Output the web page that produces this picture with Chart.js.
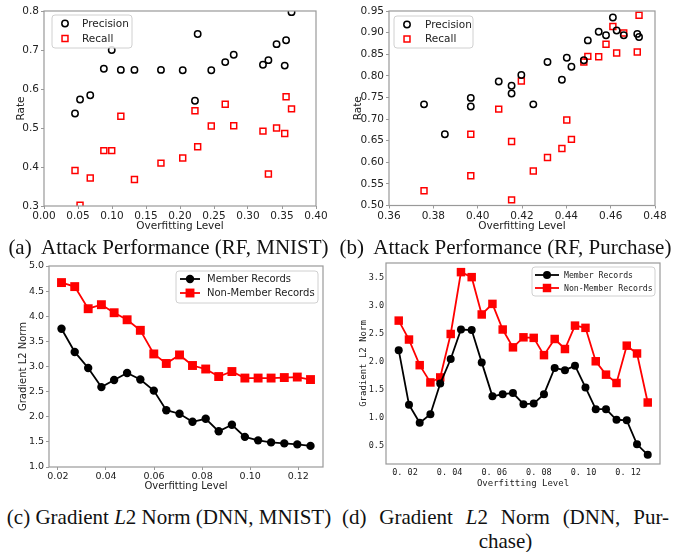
<!DOCTYPE html>
<html>
<head>
<meta charset="utf-8">
<script src="https://cdn.jsdelivr.net/npm/chart.js@4.4.1/dist/chart.umd.min.js"></script>
<style>
  body { margin: 0; background: #fff; }
  #wrap { position: relative; width: 674px; height: 552px; overflow: hidden; }
  canvas { position: absolute; }
  .cap { position: absolute; font-family: "Liberation Serif", serif; font-size: 21px; line-height: 21px; white-space: nowrap; color: #111; }
</style>
</head>
<body>
<div id="wrap">
  <canvas id="chart-a" width="337" height="234" style="left:0;top:0"></canvas>
  <canvas id="chart-b" width="337" height="234" style="left:337px;top:0"></canvas>
  <canvas id="chart-c" width="337" height="238" style="left:0;top:256px"></canvas>
  <canvas id="chart-d" width="337" height="242" style="left:337px;top:252px"></canvas>
  <div class="cap" style="left:0;top:237px;width:337px;text-align:center">(a)&nbsp; Attack Performance (RF, MNIST)</div>
  <div class="cap" style="left:337px;top:237px;width:337px;text-align:center">(b)&nbsp; Attack Performance (RF, Purchase)</div>
  <div class="cap" style="left:5px;top:507px;width:328px;text-align:center">(c) Gradient <i>L</i>2 Norm (DNN, MNIST)</div>
  <div class="cap" style="left:342px;top:507px;width:327px;text-align:justify;text-align-last:justify">(d) Gradient <i>L</i>2 Norm (DNN, Pur-</div>
  <div class="cap" style="left:342px;top:531px;width:327px;text-align:center">chase)</div>
</div>
<script>
// (a) RF, MNIST
var aX = [0.0456, 0.053, 0.068, 0.088, 0.0996, 0.113, 0.133, 0.172, 0.204, 0.222, 0.226, 0.246, 0.2665, 0.279, 0.322, 0.330, 0.342, 0.354, 0.356, 0.364];
var aPrecision = [0.537, 0.573, 0.584, 0.652, 0.700, 0.649, 0.649, 0.649, 0.648, 0.570, 0.741, 0.648, 0.669, 0.688, 0.662, 0.674, 0.715, 0.660, 0.725, 0.797];
var aRecall = [0.391, 0.302, 0.372, 0.442, 0.442, 0.530, 0.368, 0.410, 0.423, 0.544, 0.452, 0.505, 0.561, 0.506, 0.492, 0.382, 0.500, 0.486, 0.580, 0.549];
var aXTicks = [0, 0.05, 0.1, 0.15, 0.2, 0.25, 0.3, 0.35, 0.4];
var aXLabels = ["0.00", "0.05", "0.10", "0.15", "0.20", "0.25", "0.30", "0.35", "0.40"];
var aYTicks = [0.3, 0.4, 0.5, 0.6, 0.7, 0.8];
var aYLabels = ["0.3", "0.4", "0.5", "0.6", "0.7", "0.8"];

// (b) RF, Purchase
var bPrecX = [0.3758, 0.3852, 0.3969, 0.3969, 0.4095, 0.4153, 0.4153, 0.4197, 0.4251, 0.4315, 0.438, 0.4402, 0.4423, 0.4479, 0.4497, 0.4546, 0.4579, 0.461, 0.4627, 0.4659, 0.472, 0.4728];
var bPrecision = [0.734, 0.665, 0.749, 0.729, 0.787, 0.777, 0.759, 0.802, 0.734, 0.832, 0.791, 0.842, 0.821, 0.836, 0.882, 0.902, 0.894, 0.935, 0.905, 0.894, 0.897, 0.890];
var bRecX = [0.3758, 0.3969, 0.3969, 0.4095, 0.4153, 0.4153, 0.4197, 0.4251, 0.4315, 0.438, 0.4402, 0.4423, 0.4479, 0.4497, 0.4546, 0.4579, 0.461, 0.4627, 0.4659, 0.472, 0.4728];
var bRecall = [0.534, 0.665, 0.569, 0.723, 0.648, 0.513, 0.788, 0.580, 0.611, 0.632, 0.698, 0.653, 0.832, 0.845, 0.844, 0.873, 0.914, 0.853, 0.899, 0.855, 0.940];
var bXTicks = [0.36, 0.38, 0.40, 0.42, 0.44, 0.46, 0.48];
var bXLabels = ["0.36", "0.38", "0.40", "0.42", "0.44", "0.46", "0.48"];
var bYTicks = [0.5, 0.55, 0.6, 0.65, 0.7, 0.75, 0.8, 0.85, 0.9, 0.95];
var bYLabels = ["0.50", "0.55", "0.60", "0.65", "0.70", "0.75", "0.80", "0.85", "0.90", "0.95"];

// (c) DNN, MNIST
var cX = [0.0215, 0.0270, 0.0326, 0.0381, 0.0434, 0.0488, 0.0543, 0.0599, 0.0651, 0.0706, 0.0760, 0.0815, 0.0869, 0.0924, 0.0978, 0.1033, 0.1087, 0.1142, 0.1196, 0.1251];
var cMember = [3.75, 3.29, 2.97, 2.59, 2.73, 2.87, 2.74, 2.52, 2.13, 2.06, 1.90, 1.96, 1.71, 1.84, 1.60, 1.53, 1.49, 1.47, 1.45, 1.42];
var cNonMember = [4.67, 4.59, 4.15, 4.23, 4.07, 3.93, 3.72, 3.25, 3.06, 3.23, 3.02, 2.95, 2.80, 2.90, 2.77, 2.77, 2.77, 2.78, 2.79, 2.74];
var cXTicks = [0.02, 0.04, 0.06, 0.08, 0.10, 0.12];
var cXLabels = ["0.02", "0.04", "0.06", "0.08", "0.10", "0.12"];
var cYTicks = [1.0, 1.5, 2.0, 2.5, 3.0, 3.5, 4.0, 4.5, 5.0];
var cYLabels = ["1.0", "1.5", "2.0", "2.5", "3.0", "3.5", "4.0", "4.5", "5.0"];

// (d) DNN, Purchase
var dX = [0.0172, 0.0218, 0.0266, 0.0314, 0.0358, 0.0405, 0.0451, 0.0499, 0.0544, 0.0592, 0.0638, 0.0684, 0.0731, 0.0777, 0.0823, 0.0871, 0.0917, 0.0962, 0.1009, 0.1055, 0.1101, 0.1148, 0.1194, 0.1240, 0.1288];
var dMember = [2.21, 1.23, 0.905, 1.06, 1.61, 2.05, 2.58, 2.57, 1.99, 1.38, 1.42, 1.44, 1.24, 1.25, 1.42, 1.89, 1.85, 1.93, 1.54, 1.15, 1.15, 0.96, 0.95, 0.52, 0.33];
var dNonMember = [2.74, 2.40, 1.94, 1.63, 1.72, 2.50, 3.61, 3.52, 2.85, 3.04, 2.58, 2.26, 2.44, 2.43, 2.12, 2.41, 2.23, 2.65, 2.61, 2.01, 1.77, 1.62, 2.29, 2.15, 1.27];
var dXTicks = [0.02, 0.04, 0.06, 0.08, 0.10, 0.12];
var dXLabels = ["0. 02", "0. 04", "0. 06", "0. 08", "0. 10", "0. 12"];
var dYTicks = [0.5, 1.0, 1.5, 2.0, 2.5, 3.0, 3.5];
var dYLabels = ["0.5", "1.0", "1.5", "2.0", "2.5", "3.0", "3.5"];

Chart.defaults.font.family = "DejaVu Sans";
Chart.defaults.color = "#222";
Chart.defaults.animation = false;

function pts(xs, ys) {
  return xs.map(function (x, i) { return { x: x, y: ys[i] }; });
}

function drawMarker(ctx, ds, x, y) {
  ctx.lineWidth = ds.pointBorderWidth;
  ctx.strokeStyle = ds.pointBorderColor;
  ctx.fillStyle = ds.pointBackgroundColor;
  ctx.beginPath();
  if (ds.pointStyle === "rect") {
    var s = ds.pointRadius * Math.SQRT1_2;
    ctx.rect(x - s, y - s, 2 * s, 2 * s);
  } else {
    ctx.arc(x, y, ds.pointRadius, 0, 2 * Math.PI);
  }
  ctx.fill();
  if (ds.pointBorderWidth) ctx.stroke();
}

// frame round the plot + matplotlib style legend box
var framePlugin = {
  id: "frame",
  afterDraw: function (chart, args, o) {
    var ctx = chart.ctx, a = chart.chartArea;
    ctx.save();
    ctx.strokeStyle = "#999";
    ctx.lineWidth = 1.2;
    ctx.strokeRect(a.left, a.top, a.right - a.left, a.bottom - a.top);
    if (o.box) {
      var b = o.box;
      ctx.beginPath();
      ctx.roundRect(b[0], b[1], b[2], b[3], 3);
      ctx.fillStyle = "rgba(255,255,255,0.85)";
      ctx.fill();
      ctx.strokeStyle = "#d0d0d0";
      ctx.lineWidth = 1;
      ctx.stroke();
      ctx.font = o.font;
      ctx.textBaseline = "middle";
      chart.data.datasets.forEach(function (ds, i) {
        var y = o.rows[i];
        if (o.line) {
          ctx.beginPath();
          ctx.strokeStyle = ds.borderColor;
          ctx.lineWidth = ds.borderWidth;
          ctx.moveTo(o.markX - o.line, y);
          ctx.lineTo(o.markX + o.line, y);
          ctx.stroke();
        }
        drawMarker(ctx, ds, o.markX, y);
        ctx.fillStyle = "#222";
        ctx.fillText(ds.label, o.textX, y + 0.5);
      });
    }
    ctx.restore();
  }
};

function axis(horizontal, min, max, ticks, labels, size, title, font, titleFont, titlePad, tickLen, tickPad) {
  return {
    type: "linear",
    min: min,
    max: max,
    afterBuildTicks: function (s) { s.ticks = ticks.map(function (v) { return { value: v }; }); },
    afterFit: function (s) { if (horizontal) s.height = size; else s.width = size; },
    ticks: {
      autoSkip: false,
      maxRotation: 0,
      padding: tickPad,
      font: font,
      color: "#222",
      callback: function (v, i) { return labels[i]; },
    },
    grid: { drawOnChartArea: false, drawTicks: tickLen > 0, tickLength: tickLen, tickColor: "#999", tickWidth: 1 },
    border: { display: false },
    title: { display: true, text: title, font: titleFont, color: "#222", padding: titlePad },
  };
}

function scatterChart(id, datasets, xs, ys, legend, pad) {
  new Chart(document.getElementById(id), {
    type: "scatter",
    data: { datasets: datasets },
    options: {
      responsive: false,
      layout: { padding: pad },
      plugins: { legend: { display: false }, tooltip: { enabled: false }, frame: legend },
      scales: { x: xs, y: ys },
    },
    plugins: [framePlugin],
  });
}

function openSet(label, data, style, color, r) {
  return {
    label: label, data: data, pointStyle: style, pointRadius: r,
    pointBorderWidth: 1.5, pointBorderColor: color, pointBackgroundColor: "rgba(0,0,0,0)",
    borderColor: color, showLine: false,
  };
}

function lineSet(label, data, style, color, r) {
  return {
    label: label, data: data, pointStyle: style, pointRadius: r,
    pointBorderWidth: 0, pointBorderColor: color, pointBackgroundColor: color,
    borderColor: color, borderWidth: 1.8, showLine: true,
  };
}

var sans = { family: "DejaVu Sans", size: 10.5 };
var sansC = { family: "DejaVu Sans", size: 9.5 };
var sansCTitle = { family: "DejaVu Sans", size: 10 };
var mono = { family: "DejaVu Sans Mono", size: 8.5 };
var monoTitle = { family: "DejaVu Sans Mono", size: 9 };

document.addEventListener("DOMContentLoaded", function () {
  scatterChart("chart-a",
    [openSet("Precision", pts(aX, aPrecision), "circle", "#000", 3.2),
     openSet("Recall", pts(aX, aRecall), "rect", "#f00", 4.2)],
    axis(true, 0, 0.4, aXTicks, aXLabels, 28, "Overfitting Level", sans, sans, { top: 0, bottom: 1 }, 3, 1),
    axis(false, 0.3, 0.8, aYTicks, aYLabels, 44, "Rate", sans, sans, { top: 15, bottom: 0 }, 3, 2),
    { box: [52, 15, 80, 33], rows: [23.5, 38.5], markX: 65, textX: 82, font: "10.5px 'DejaVu Sans'" },
    { top: 11, right: 21, left: 0, bottom: 0 });

  scatterChart("chart-b",
    [openSet("Precision", pts(bPrecX, bPrecision), "circle", "#000", 3.2),
     openSet("Recall", pts(bRecX, bRecall), "rect", "#f00", 4.2)],
    axis(true, 0.36, 0.48, bXTicks, bXLabels, 28.5, "Overfitting Level", sans, sans, { top: 0, bottom: 1 }, 3, 1),
    axis(false, 0.5, 0.95, bYTicks, bYLabels, 52, "Rate", sans, sans, { top: 15, bottom: 0 }, 3, 2),
    { box: [57, 16, 79, 32], rows: [24.5, 39], markX: 70, textX: 88, font: "10.5px 'DejaVu Sans'" },
    { top: 11, right: 19, left: 0, bottom: 0 });

  scatterChart("chart-c",
    [lineSet("Member Records", pts(cX, cMember), "circle", "#000", 4.2),
     lineSet("Non-Member Records", pts(cX, cNonMember), "rect", "#f00", 6.3)],
    axis(true, 0.0163, 0.1303, cXTicks, cXLabels, 27, "Overfitting Level", sansC, sansCTitle, { top: 0, bottom: 2 }, 3, 1),
    axis(false, 1.0, 5.0, cYTicks, cYLabels, 49, "Gradient L2 Norm", sansC, sansCTitle, { top: 17, bottom: 0 }, 3, 2),
    { box: [176, 15, 142, 32], rows: [23, 37], markX: 190, line: 10, textX: 207, font: "10px 'DejaVu Sans'" },
    { top: 10, right: 14, left: 0, bottom: 0 });

  scatterChart("chart-d",
    [lineSet("Member Records", pts(dX, dMember), "circle", "#000", 4),
     lineSet("Non-Member Records", pts(dX, dNonMember), "rect", "#f00", 6)],
    axis(true, 0.0115, 0.1343, dXTicks, dXLabels, 30, "Overfitting Level", mono, monoTitle, { top: 0, bottom: 5 }, 0, 4),
    axis(false, 0.166, 3.774, dYTicks, dYLabels, 49, "Gradient L2 Norm", mono, monoTitle, { top: 21, bottom: 0 }, 0, 2),
    { box: [195, 15, 123, 29], rows: [23, 36], markX: 210, line: 12, textX: 227, font: "8.2px 'DejaVu Sans Mono'" },
    { top: 11, right: 14, left: 0, bottom: 0 });
});
</script>
</body>
</html>
